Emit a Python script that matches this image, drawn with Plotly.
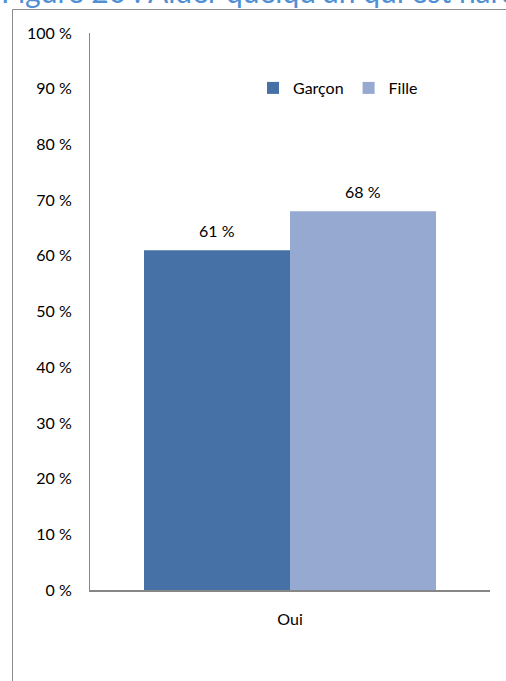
import plotly.graph_objects as go

# Data
categories = ["Oui"]
series_names = ["Garçon", "Fille"]
garcon_values = [61]
fille_values = [68]
y_ticks = list(range(0, 101, 10))
title_text = "Figure 20 : Aider quelqu'un qui est harcelé"

colors = {"Garçon": "#4671A7", "Fille": "#95A9D1"}
FONT = "Lato, Carlito, sans-serif"

W, H = 506, 681
ML, MR, MT, MB = 90, 16, 33, 91
PW, PH = W - ML - MR, H - MT - MB


def px_x(px):
    return (px - ML) / PW


def px_y(py):
    return 1 - (py - MT) / PH


fig = go.Figure()
for name, vals in zip(series_names, [garcon_values, fille_values]):
    fig.add_trace(go.Bar(
        x=categories, y=vals, name=name,
        marker=dict(color=colors[name], line=dict(width=0)),
    ))

# value labels above each bar
bar_px = PW * (1 - 0.27) / 2
for i, vals in enumerate([garcon_values, fille_values]):
    for c, v in zip(categories, vals):
        fig.add_annotation(
            x=c, y=v, xref="x", yref="y", text=f"{v} %", showarrow=False,
            xshift=(i - 0.5) * bar_px, yshift=20, yanchor="middle",
            font=dict(family=FONT, size=16, color="#000000"),
        )

# title (runs past the top and right edges of the page)
fig.add_annotation(
    x=px_x(-1), y=px_y(11), xref="paper", yref="paper", text=title_text,
    showarrow=False, xanchor="left", yanchor="bottom",
    font=dict(family=FONT, size=30, color="#4F8FD4"),
)

# outer chart frame
frame = dict(color="#8C8C8C", width=1)
fig.add_shape(type="line", xref="paper", yref="paper",
              x0=px_x(12.5), x1=px_x(12.5), y0=px_y(9.5), y1=px_y(700), line=frame)
fig.add_shape(type="line", xref="paper", yref="paper",
              x0=px_x(12.5), x1=px_x(520), y0=px_y(9.5), y1=px_y(9.5), line=frame)

fig.update_layout(
    width=W, height=H,
    margin=dict(l=ML, r=MR, t=MT, b=MB),
    paper_bgcolor="white", plot_bgcolor="white",
    barmode="group", bargap=0.27, bargroupgap=0,
    font=dict(family=FONT, size=16, color="#000000"),
    showlegend=True,
    legend=dict(
        orientation="h", x=px_x(253), y=px_y(88), xanchor="left", yanchor="middle",
        font=dict(size=16), itemwidth=30, bgcolor="rgba(0,0,0,0)",
        tracegroupgap=0,
    ),
)
fig.update_yaxes(
    range=[0, 100], tickvals=y_ticks, ticktext=[f"{t} %" for t in y_ticks],
    showgrid=False, zeroline=False, showline=True, linecolor="#868686", linewidth=1,
    ticks="", ticklabelstandoff=14,
)
fig.update_xaxes(
    showgrid=False, showline=True, linecolor="#868686", linewidth=1.5,
    ticks="", ticklabelstandoff=14,
)

fig.write_html("out.html")
